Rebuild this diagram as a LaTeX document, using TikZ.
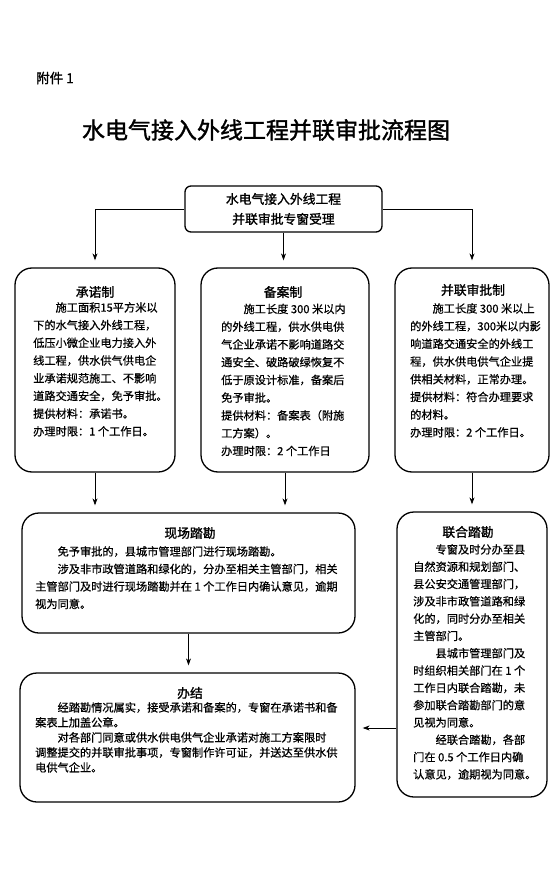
\documentclass[tikz,border=0pt]{standalone}
\usepackage{fontspec}
\newfontfamily\cjk[FakeBold=0.6]{Noto Sans CJK SC}
\newfontfamily\cjkb[FakeBold=1.4]{Noto Sans CJK SC}
\usetikzlibrary{arrows.meta,calc}
\begin{document}
\begin{tikzpicture}[x=1pt,y=-1pt,
  box/.style={draw, line width=1.3pt, rounded corners=17pt, inner sep=0pt},
  conn/.style={line width=0.8pt, -{Stealth[length=7pt,width=5pt]}, shorten >=7pt},
  head/.style={font=\cjkb\fontsize{12.8}{15}\selectfont, inner sep=0pt},
  body/.style={align=left, anchor=north west, inner sep=0pt, font=\cjk\fontsize{11.2}{#1}\selectfont},
]
\useasboundingbox[fill=white] (0,0) rectangle (552,885);

\node[anchor=west, inner sep=0pt, font=\cjkb\fontsize{13.5}{16}\selectfont] (att) at (36,78) {附件 1};
\node[inner sep=0pt, font=\cjkb\fontsize{23}{28}\selectfont] (title) at (266,130) {水电气接入外线工程并联审批流程图};

% boxes
\node[box, rounded corners=6pt, minimum width=197pt, minimum height=46pt, align=center,
      font=\cjkb\fontsize{12.8}{20}\selectfont] (tbox) at (283.5,209) {水电气接入外线工程\\并联审批专窗受理};
\node[box, minimum width=160pt, minimum height=204pt] (lbox) at (95,370) {};
\node[box, minimum width=168pt, minimum height=204pt] (mbox) at (285,370) {};
\node[box, minimum width=154pt, minimum height=204pt] (rbox) at (472,370) {};
\node[box, minimum width=333pt, minimum height=120pt] (sbox) at (188.5,573) {};
\node[box, minimum width=335pt, minimum height=129pt] (jbox) at (187.5,737.5) {};
\node[box, minimum width=150pt, minimum height=285pt] (ubox) at (472,654.5) {};

% headings
\node[head] (lh) at (95,292) {承诺制};
\node[head] (mh) at (283,292) {备案制};
\node[head] (rh) at (473,290) {并联审批制};
\node[head] (sh) at (190,533) {现场踏勘};
\node[head] (uh) at (468,532) {联合踏勘};
\node[head] (jh) at (190,693) {办结};

% body texts
\node[body=17.7] (lt) at (33,302) {\hspace*{2em}施工面积15平方米以\\
下的水气接入外线工程，\\
低压小微企业电力接入外\\
线工程，供水供气供电企\\
业承诺规范施工、不影响\\
道路交通安全，免予审批。\\
提供材料：承诺书。\\
办理时限：1 个工作日。};

\node[body=17.75] (mt) at (221,303.5) {\hspace*{2em}施工长度 300 米以内\\
的外线工程，供水供电供\\
气企业承诺不影响道路交\\
通安全、破路破绿恢复不\\
低于原设计标准，备案后\\
免予审批。\\
提供材料：备案表（附施\\
工方案）。\\
办理时限：2 个工作日};

\node[body=17.7] (rt) at (410,303) {\hspace*{2em}施工长度 300 米以上\\
的外线工程，300米以内影\\
响道路交通安全的外线工\\
程，供水供电供气企业提\\
供相关材料，正常办理。\\
提供材料：符合办理要求\\
的材料。\\
办理时限：2 个工作日。};

\node[body=17.5] (st) at (35,546) {\hspace*{2em}免予审批的，县城市管理部门进行现场踏勘。\\
\hspace*{2em}涉及非市政管道路和绿化的，分办至相关主管部门，相关\\
主管部门及时进行现场踏勘并在 1 个工作日内确认意见，逾期\\
视为同意。};

\node[body=15] (jt) at (35,702) {\hspace*{2em}经踏勘情况属实，接受承诺和备案的，专窗在承诺书和备\\
案表上加盖公章。\\
\hspace*{2em}对各部门同意或供水供电供气企业承诺对施工方案限时\\
调整提交的并联审批事项，专窗制作许可证，并送达至供水供\\
电供气企业。};

\node[body=17.3] (ut) at (413,544) {\hspace*{2em}专窗及时分办至县\\
自然资源和规划部门、\\
县公安交通管理部门，\\
涉及非市政管道路和绿\\
化的，同时分办至相关\\
主管部门。\\
\hspace*{2em}县城市管理部门及\\
时组织相关部门在 1 个\\
工作日内联合踏勘，未\\
参加联合踏勘部门的意\\
见视为同意。\\
\hspace*{2em}经联合踏勘，各部\\
门在 0.5 个工作日内确\\
认意见，逾期视为同意。};

% connectors
\draw[conn] (tbox.west) -| (lbox.north);
\draw[conn] (tbox.east) -| (rbox.north);
\draw[conn] (tbox.south) -- (tbox.south |- mbox.north);
\draw[conn] (lbox.south) -- (lbox.south |- sbox.north);
\draw[conn] (mbox.south) -- (mbox.south |- sbox.north);
\draw[conn] (rbox.south) -- (ubox.north);
\draw[conn] (sbox.south) -- (sbox.south |- jbox.north);
\coordinate (jin) at ([yshift=9.5pt]jbox.east);
\draw[conn] (jin -| ubox.west) -- (jin);
\end{tikzpicture}
\end{document}
